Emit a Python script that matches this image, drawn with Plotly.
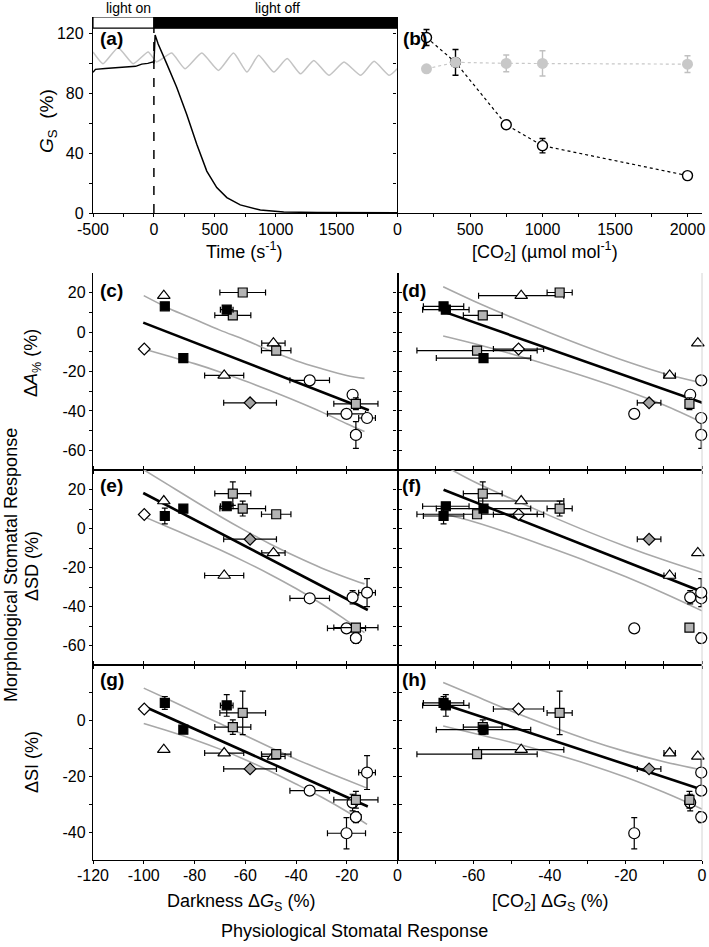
import plotly.graph_objects as go

FONT = "Arial, Liberation Sans, Helvetica, sans-serif"

# ---------------- (a) stomatal conductance time courses ----------------
time_dark_s = [-500, -480, -400, -300, -200, -150, -100, -50, -5, 0, 10, 35, 104, 187,
               269, 352, 434, 516, 599, 709, 874, 1066, 1341, 1700, 2000]
gs_dark_pct = [94, 96, 96.5, 97, 97.5, 98, 99.5, 100, 101, 100, 119, 113, 100, 84,
               66, 46, 28, 17, 10.3, 5.4, 2.0, 0.7, 0.3, 0.2, 0.1]
time_light_s = [-500, -418, -294, -170, -47, 22, 146, 256, 393, 530, 654, 764, 860,
                984, 1094, 1204, 1313, 1437, 1561, 1698, 1808, 1932, 2000]
gs_light_pct = [107.6, 99.8, 110.5, 99.8, 107.6, 101, 106.9, 96.4, 106.9, 95.3, 106.9,
                94.2, 105.4, 94.2, 103.2, 93, 102, 92, 100.9, 92, 101.4, 92, 96.6]

# ---------------- (b) CO2 response ----------------
co2_ppm = [200, 400, 750, 1000, 2000]
gs_co2 = [117.3, 100.7, 59, 45, 25]
gs_co2_err = [5.3, 8.6, 2.5, 4.8, 1.0]
gs_ctrl = [96.4, 100.7, 100, 100, 99.5]
gs_ctrl_err = [0, 0, 5.6, 8.4, 5.6]

# ---------------- (c)-(h) species data ----------------
# open circles
circ_dark = [-34.6, -17.7, -20.1, -12.0, -16.4]
circ_dark_err = [7.8, 1.5, 7.5, 3.3, 2.0]
circ_co2 = [-0.2, -3.1, -17.8, -0.2, -0.2]
circ_co2_err = [0, 0, 0, 0, 0]
circ_dA = [-24.5, -31.8, -41.5, -43.6, -52.2]
circ_dA_err = [0, 0, 0, 0, 6.8]
circ_dSD = [-35.8, -35.3, -51.2, -32.9, -56.2]
circ_dSD_err = [0, 3.4, 0, 7.2, 2.7]
circ_dSI = [-25.1, -29.4, -40.4, -18.6, -34.6]
circ_dSI_err = [0, 3.0, 5.6, 6.1, 2.0]
# open triangles
tri_dark = [-92.1, -48.9, -68.3]
tri_dark_err = [0, 4.6, 7.7]
tri_co2 = [-47.5, -1.1, -8.5]
tri_co2_err = [11.2, 0, 1.5]
tri_dA = [18.5, -5.6, -22.0]
tri_dA_err = [0, 0, 0]
tri_dSD = [14.1, -12.5, -24.1]
tri_dSD_err = [0, 0, 0]
tri_dSI = [-10.4, -12.8, -11.6]
tri_dSI_err = [0, 0, 0]
# open diamond
odia_dark = [-99.8]
odia_dark_err = [0]
odia_co2 = [-48.2]
odia_co2_err = [6.6]
odia_dA = [-8.6]
odia_dA_err = [0]
odia_dSD = [7.2]
odia_dSD_err = [0]
odia_dSI = [4.2]
odia_dSI_err = [0]
# grey diamond
gdia_dark = [-58.1]
gdia_dark_err = [10.4]
gdia_co2 = [-13.9]
gdia_co2_err = [3.1]
gdia_dA = [-35.9]
gdia_dA_err = [0]
gdia_dSD = [-5.5]
gdia_dSD_err = [0]
gdia_dSI = [-17.3]
gdia_dSI_err = [0]
# grey squares
gsq_dark = [-61.0, -64.9, -47.8, -16.4]
gsq_dark_err = [9.0, 7.1, 5.8, 8.7]
gsq_co2 = [-37.4, -57.6, -59.1, -3.3]
gsq_co2_err = [3.3, 5.1, 15.8, 0.5]
gsq_dA = [20.1, 8.5, -9.4, -36.4]
gsq_dA_err = [0, 0, 0, 3.0]
gsq_dSD = [10.2, 17.9, 7.3, -50.8]
gsq_dSD_err = [3.8, 6.0, 0, 0]
gsq_dSI = [2.8, -2.3, -12.0, -28.4]
gsq_dSI_err = [7.8, 2.6, 0, 3.0]
# black squares
bsq_dark = [-91.7, -67.3, -84.4]
bsq_dark_err = [0, 2.5, 0]
bsq_co2 = [-67.9, -67.3, -57.4]
bsq_co2_err = [5.3, 6.1, 12.4]
bsq_dA = [13.1, 11.4, -13.2]
bsq_dA_err = [0, 0, 0]
bsq_dSD = [6.4, 11.4, 10.2]
bsq_dSD_err = [4.0, 0, 0]
bsq_dSI = [6.4, 5.5, -3.2]
bsq_dSI_err = [2.3, 3.9, 0]

fit_c_x = [-100.2, -11.3]; fit_c_y = [4.8, -39.7]
fit_d_x = [-67.9, 0.2];    fit_d_y = [10.4, -35.9]
fit_e_x = [-100.2, -11.7]; fit_e_y = [18.2, -41.8]
fit_f_x = [-67.9, 0.0];    fit_f_y = [19.9, -32.4]
fit_g_x = [-99.8, -11.7];  fit_g_y = [5.1, -30.8]
fit_h_x = [-67.9, 0.2];    fit_h_y = [5.9, -24.8]

ci_c_x = [-100, -90, -80, -70, -60, -50, -40, -30, -20, -13]
ci_c_up = [18.5, 12, 6.5, 1, -4, -9.5, -14.5, -18.5, -22, -23.5]
ci_c_lo = [-8.6, -12.3, -16, -20.2, -24.8, -29.8, -35, -40.5, -46.5, -50.5]
ci_d_x = [-68, -60, -50, -40, -30, -20, -10, 0]
ci_d_up = [23, 15.8, 7.5, -0.3, -7.8, -14.8, -21, -25.8]
ci_d_lo = [-2, -5.8, -11.1, -16.9, -23, -29.6, -37, -45.8]
ci_e_x = [-100, -90, -80, -70, -60, -50, -40, -30, -20, -13]
ci_e_up = [30.1, 22.1, 14.1, 6.3, -1.1, -8.1, -14.4, -20.2, -25.2, -28.4]
ci_e_lo = [6.1, 0.5, -5.1, -10.9, -17.1, -23.7, -30.8, -38.6, -47.2, -53.4]
ci_f_x = [-67.9, -60, -50, -40, -30, -20, -10, 0]
ci_f_up = [32.4, 24.1, 15.2, 6.6, -1.6, -9.2, -16.2, -22.6]
ci_f_lo = [7.4, 3.5, -2.8, -9.8, -17, -24.8, -33.2, -42.2]
ci_g_x = [-100, -90, -80, -70, -60, -50, -40, -30, -20, -12]
ci_g_up = [11.7, 7.5, 3.2, -1.0, -5.3, -9.6, -13.8, -17.6, -21.3, -24.2]
ci_g_lo = [-1.0, -3.8, -6.8, -10.2, -14.0, -18.2, -22.7, -27.4, -32.6, -37.2]
ci_h_x = [-68, -60, -50, -40, -30, -20, -10, 0]
ci_h_up = [13.7, 9.1, 3.4, -1.9, -6.8, -11.1, -14.7, -17.7]
ci_h_lo = [-1.9, -4.5, -7.8, -11.5, -15.6, -20.3, -25.7, -31.7]

# ---------------- build figure ----------------
groups = [
    ("circle", dict(dark=circ_dark, dark_err=circ_dark_err, co2=circ_co2, co2_err=circ_co2_err,
                    dA=circ_dA, dA_err=circ_dA_err, dSD=circ_dSD, dSD_err=circ_dSD_err,
                    dSI=circ_dSI, dSI_err=circ_dSI_err)),
    ("triangle", dict(dark=tri_dark, dark_err=tri_dark_err, co2=tri_co2, co2_err=tri_co2_err,
                      dA=tri_dA, dA_err=tri_dA_err, dSD=tri_dSD, dSD_err=tri_dSD_err,
                      dSI=tri_dSI, dSI_err=tri_dSI_err)),
    ("odia", dict(dark=odia_dark, dark_err=odia_dark_err, co2=odia_co2, co2_err=odia_co2_err,
                  dA=odia_dA, dA_err=odia_dA_err, dSD=odia_dSD, dSD_err=odia_dSD_err,
                  dSI=odia_dSI, dSI_err=odia_dSI_err)),
    ("gdia", dict(dark=gdia_dark, dark_err=gdia_dark_err, co2=gdia_co2, co2_err=gdia_co2_err,
                  dA=gdia_dA, dA_err=gdia_dA_err, dSD=gdia_dSD, dSD_err=gdia_dSD_err,
                  dSI=gdia_dSI, dSI_err=gdia_dSI_err)),
    ("gsq", dict(dark=gsq_dark, dark_err=gsq_dark_err, co2=gsq_co2, co2_err=gsq_co2_err,
                 dA=gsq_dA, dA_err=gsq_dA_err, dSD=gsq_dSD, dSD_err=gsq_dSD_err,
                 dSI=gsq_dSI, dSI_err=gsq_dSI_err)),
    ("bsq", dict(dark=bsq_dark, dark_err=bsq_dark_err, co2=bsq_co2, co2_err=bsq_co2_err,
                 dA=bsq_dA, dA_err=bsq_dA_err, dSD=bsq_dSD, dSD_err=bsq_dSD_err,
                 dSI=bsq_dSI, dSI_err=bsq_dSI_err)),
]
styles = {
    "circle": dict(symbol="circle", color="white", size=11),
    "triangle": dict(symbol="triangle-up", color="white", size=11),
    "odia": dict(symbol="diamond", color="white", size=9),
    "gdia": dict(symbol="diamond", color="#a3a3a3", size=9),
    "gsq": dict(symbol="square", color="#b4b4b4", size=9),
    "bsq": dict(symbol="square", color="black", size=9),
}

panels = [
    (3, "dark", "dA", fit_c_x, fit_c_y, ci_c_x, ci_c_up, ci_c_lo),
    (4, "co2", "dA", fit_d_x, fit_d_y, ci_d_x, ci_d_up, ci_d_lo),
    (5, "dark", "dSD", fit_e_x, fit_e_y, ci_e_x, ci_e_up, ci_e_lo),
    (6, "co2", "dSD", fit_f_x, fit_f_y, ci_f_x, ci_f_up, ci_f_lo),
    (7, "dark", "dSI", fit_g_x, fit_g_y, ci_g_x, ci_g_up, ci_g_lo),
    (8, "co2", "dSI", fit_h_x, fit_h_y, ci_h_x, ci_h_up, ci_h_lo),
]

fig = go.Figure()

# (a)
fig.add_trace(go.Scatter(x=time_light_s, y=gs_light_pct, mode="lines",
                         line=dict(color="#c4c4c4", width=1.5, shape="spline", smoothing=0.5),
                         xaxis="x", yaxis="y"))
fig.add_trace(go.Scatter(x=time_dark_s, y=gs_dark_pct, mode="lines",
                         line=dict(color="black", width=1.5), xaxis="x", yaxis="y"))
# (b)
fig.add_trace(go.Scatter(x=co2_ppm, y=gs_co2, mode="lines+markers",
                         line=dict(color="black", width=1.2, dash="dot"),
                         marker=dict(symbol="circle", size=10, color="white",
                                     line=dict(color="black", width=1.4)),
                         error_y=dict(type="data", array=gs_co2_err, color="black",
                                      thickness=1.4, width=3),
                         xaxis="x2", yaxis="y2", cliponaxis=False))
fig.add_trace(go.Scatter(x=co2_ppm, y=gs_ctrl, mode="lines+markers",
                         line=dict(color="#c8c8c8", width=1.2, dash="dot"),
                         marker=dict(symbol="circle", size=11, color="#c8c8c8",
                                     line=dict(color="#c8c8c8", width=0)),
                         error_y=dict(type="data", array=gs_ctrl_err, color="#c0c0c0",
                                      thickness=1.4, width=3),
                         xaxis="x2", yaxis="y2", cliponaxis=False))

for n, drv, meas, fx, fy, cx, cu, cl in panels:
    xa, ya = f"x{n}", f"y{n}"
    fig.add_trace(go.Scatter(x=cx, y=cu, mode="lines", line=dict(color="#a8a8a8", width=1.6, shape="spline"),
                             xaxis=xa, yaxis=ya))
    fig.add_trace(go.Scatter(x=cx, y=cl, mode="lines", line=dict(color="#a8a8a8", width=1.6, shape="spline"),
                             xaxis=xa, yaxis=ya))
    fig.add_trace(go.Scatter(x=fx, y=fy, mode="lines", line=dict(color="black", width=2.6),
                             xaxis=xa, yaxis=ya))
    for gname, g in groups:
        st = styles[gname]
        fig.add_trace(go.Scatter(
            x=g[drv], y=g[meas], mode="markers",
            marker=dict(symbol=st["symbol"], size=st["size"], color=st["color"],
                        line=dict(color="black", width=1.2)),
            error_x=dict(type="data", array=g[drv + "_err"], color="black", thickness=1.2, width=3),
            error_y=dict(type="data", array=g[meas + "_err"], color="black", thickness=1.2, width=3),
            xaxis=xa, yaxis=ya, cliponaxis=False))

# ---------------- axes ----------------
H_TOT = 843.0
def ydom(top_px, bot_px):
    return [(860 - bot_px) / H_TOT, (860 - top_px) / H_TOT]

tickfont = dict(family=FONT, size=16, color="black")
base = dict(showline=True, linecolor="black", linewidth=1.3, ticks="outside", ticklen=3,
            tickcolor="black", tickwidth=1.2, showgrid=False, zeroline=False, tickfont=tickfont,
            automargin=False)

lay = {}
# (a)
lay["xaxis"] = dict(base, domain=[0, 0.5], range=[-500, 2000], anchor="y",
                    tickvals=list(range(-500, 2001, 250)), ticklabelstandoff=-1,
                    ticktext=["-500", "", "0", "", "500", "", "1000", "", "1500", "", ""])
lay["yaxis"] = dict(base, domain=ydom(17, 213), range=[0, 131], anchor="x",
                    tickvals=list(range(0, 121, 20)), ticklabelstandoff=2,
                    ticktext=["0", "", "40", "", "80", "", "120"])
# (b)
lay["xaxis2"] = dict(base, domain=[0.5, 1], range=[0, 2100], anchor="y2",
                     tickvals=list(range(0, 2001, 250)), ticklabelstandoff=-1,
                     ticktext=["0", "", "500", "", "1000", "", "1500", "", "2000"])
lay["yaxis2"] = dict(base, domain=ydom(17, 213), range=[0, 131], anchor="x2",
                     tickvals=list(range(0, 121, 20)), showticklabels=False)

rows = {3: (273, 470), 4: (273, 470), 5: (470, 665), 6: (470, 665), 7: (665, 860), 8: (665, 860)}
for n in range(3, 9):
    col1 = (n % 2 == 1)
    top, bot = rows[n]
    bottom_row = n in (7, 8)
    top_row = n in (3, 4)
    if col1:
        xa = dict(base, domain=[0, 0.5], range=[-120, 0], tickvals=list(range(-120, 1, 20)),
                  ticktext=[str(v) for v in range(-120, 1, 20)])
    else:
        xa = dict(base, domain=[0.5, 1], range=[-80, 0], tickvals=list(range(-80, 1, 10)),
                  ticktext=["", "", "-60", "", "-40", "", "-20", "", "0"])
    xa["anchor"] = f"y{n}"
    xa["showticklabels"] = bottom_row
    xa["ticklabelstandoff"] = -2
    xa["mirror"] = False if top_row else "ticks"
    if n in (7, 8):
        yr = [-50, 20]
        tv = list(range(-40, 11, 10))
    else:
        yr = [-70, 30]
        tv = list(range(-60, 21, 10))
    tt = [str(v) if v % 20 == 0 else "" for v in tv]
    ya = dict(base, domain=ydom(top, bot), range=yr, tickvals=tv, ticktext=tt, anchor=f"x{n}")
    if col1:
        ya["mirror"] = "ticks"
    else:
        ya["showticklabels"] = False
    lay[f"xaxis{n}"] = xa
    lay[f"yaxis{n}"] = ya

fig.update_layout(**lay)

# ---------------- shapes ----------------
shapes = [
    dict(type="rect", xref="x", yref="y", x0=-500, x1=0, y0=123.5, y1=131,
         fillcolor="white", line=dict(color="black", width=1.2), layer="above"),
    dict(type="rect", xref="x", yref="y", x0=0, x1=2000, y0=123.5, y1=131,
         fillcolor="black", line=dict(color="black", width=1.2), layer="above"),
    dict(type="line", xref="x", yref="y", x0=0, x1=0, y0=0, y1=123.5,
         line=dict(color="black", width=1.5, dash="dash")),
    dict(type="line", xref="paper", yref="paper", x0=1, x1=1, y0=0, y1=ydom(273, 470)[1],
         line=dict(color="#d4d4d4", width=1)),
]
fig.update_layout(shapes=shapes)

# ---------------- annotations ----------------
def px2x(px):
    return (px - 93) / 609.0

def py2y(py):
    return (860 - py) / H_TOT

ann = []
def txt(text, px, py, size=18, angle=0, bold=False, xanchor="center"):
    ann.append(dict(text=(f"<b>{text}</b>" if bold else text), x=px2x(px), y=py2y(py),
                    xref="paper", yref="paper", showarrow=False, textangle=angle,
                    xanchor=xanchor, yanchor="middle",
                    font=dict(family=FONT, size=size, color="black")))

txt("light on", 128, 8, size=14)
txt("light off", 277, 8, size=14)
for lab, px, py in [("(a)", 98, 38), ("(b)", 401, 38), ("(c)", 98, 291), ("(d)", 400, 291),
                    ("(e)", 98, 485), ("(f)", 400, 485), ("(g)", 98, 679), ("(h)", 400, 679)]:
    txt(lab, px, py, size=19, bold=True, xanchor="left")

txt("<i>G</i><sub>S</sub>  (%)", 48, 121, size=19, angle=-90)
txt("Time (s<sup>-1</sup>)", 244, 250, size=18)
txt("[CO<sub>2</sub>] (µmol mol<sup>-1</sup>)", 545, 251, size=18)
txt("Δ<i>A</i><sub>%</sub> (%)", 32, 363, size=18, angle=-90)
txt("ΔSD (%)", 32, 566, size=18, angle=-90)
txt("ΔSI (%)", 32, 762, size=18, angle=-90)
txt("Morphological Stomatal Response", 11, 565, size=18, angle=-90)
txt("Darkness Δ<i>G</i><sub>S</sub> (%)", 241, 902, size=18)
txt("[CO<sub>2</sub>] Δ<i>G</i><sub>S</sub> (%)", 550, 902, size=18)
txt("Physiological Stomatal Response", 354, 931, size=18)

fig.update_layout(annotations=ann, width=709, height=947, showlegend=False,
                  margin=dict(l=93, r=7, t=17, b=87),
                  paper_bgcolor="white", plot_bgcolor="white",
                  font=dict(family=FONT, color="black"))

fig.write_html("out.html", config={"displayModeBar": False},
               post_script="document.body.style.margin='0px';document.body.style.padding='0px';")
